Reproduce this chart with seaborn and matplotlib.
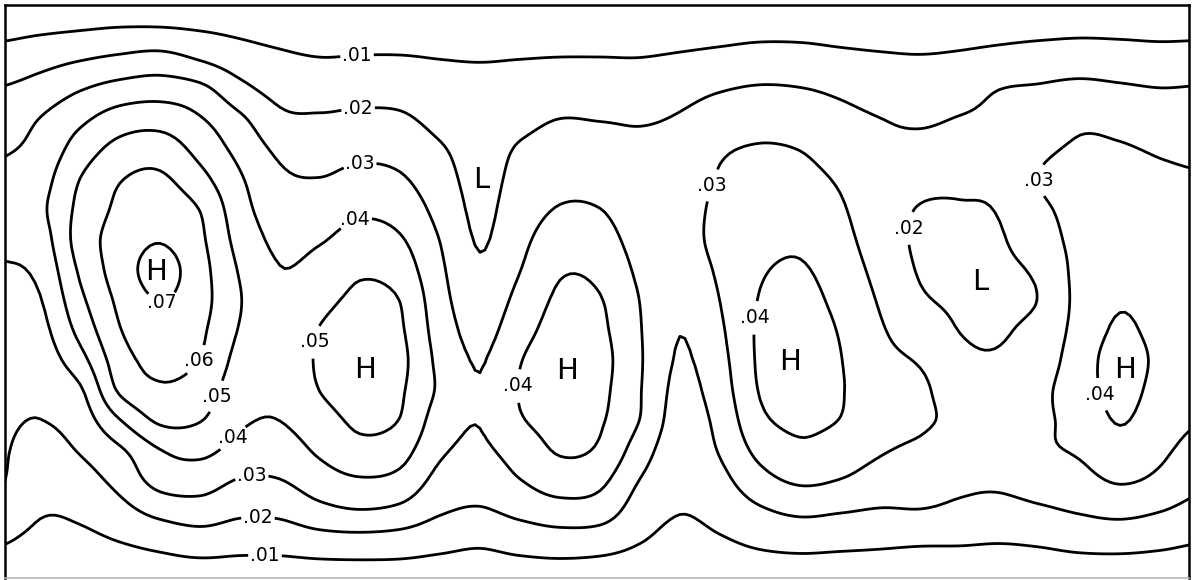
import numpy as np
import matplotlib
matplotlib.use("Agg")
import matplotlib.pyplot as plt
import seaborn as sns

# Analysed field on a regular grid (values in hundredths).
# Each list is one north-south profile, top (y=0) to bottom (y=600).
grid_x = list(range(0, 1201, 40))
grid_y = list(range(0, 601, 30))

profiles = [
    [0.1, 0.74, 1.41, 2.06, 2.48, 2.90, 3.19, 3.39, 3.13, 2.93, 2.76, 2.6, 2.45, 2.3, 2.15, 2.09, 2.06, 1.84, 1.11, 0.64, 0.2],
    [0, 0.86, 1.68, 2.41, 3.04, 3.32, 3.61, 3.80, 3.52, 3.23, 2.95, 2.71, 2.47, 2.23, 1.99, 1.69, 1.40, 1.10, 0.75, 0.38, 0],
    [0, 0.98, 1.97, 2.97, 3.81, 4.46, 5.02, 5.26, 5.41, 5.14, 4.77, 4.30, 3.65, 2.87, 2.47, 2.07, 1.64, 1.20, 0.79, 0.39, 0],
    [0, 1.11, 2.22, 3.41, 4.5, 5.35, 5.96, 6.2, 6.41, 6.47, 6.22, 5.96, 5.57, 5.17, 3.98, 2.87, 2.31, 1.71, 1.04, 0.52, 0],
    [0, 1.12, 2.38, 3.57, 4.63, 5.54, 6.17, 6.56, 6.95, 7.37, 7.03, 6.66, 6.29, 5.86, 5.18, 3.98, 3.38, 2.33, 1.31, 0.61, 0],
    [0, 0.97, 1.98, 3.29, 4.1, 4.7, 5.33, 5.98, 6.18, 6.36, 6.36, 6.18, 5.98, 5.52, 5.05, 4.25, 3.45, 2.57, 1.54, 0.67, 0],
    [0, 0.79, 1.5, 2.31, 3.2, 3.71, 4.12, 4.38, 4.65, 4.91, 5.05, 4.93, 4.67, 4.41, 4.15, 3.68, 2.95, 2.22, 1.4, 0.65, 0],
    [0, 0.63, 1.2, 1.7, 2.23, 2.81, 3.19, 3.49, 3.78, 4.03, 4.14, 4.26, 4.24, 4.12, 4.01, 3.54, 2.98, 2.25, 1.41, 0.65, 0],
    [0, 0.53, 1.05, 1.6, 2.12, 2.58, 3.04, 3.49, 3.93, 4.33, 4.73, 5.04, 5.15, 5.02, 4.62, 4.17, 3.55, 2.74, 1.62, 0.68, 0],
    [0, 0.55, 1.09, 1.66, 2.22, 2.76, 3.31, 3.85, 4.37, 4.88, 5.17, 5.39, 5.61, 5.43, 5.17, 4.73, 3.91, 2.98, 1.68, 0.7, 0],
    [0, 0.55, 1.09, 1.64, 2.16, 2.65, 3.13, 3.62, 4.1, 4.55, 4.98, 5.12, 5.25, 5.12, 4.97, 4.4, 3.71, 2.78, 1.59, 0.7, 0],
    [0, 0.51, 1.01, 1.38, 1.75, 2.1, 2.39, 2.69, 2.98, 3.18, 3.36, 3.55, 3.74, 3.84, 3.5, 3.16, 2.7, 2.13, 1.34, 0.63, 0],
    [0, 0.48, 0.97, 1.29, 1.6, 1.66, 1.71, 1.8, 1.93, 2.12, 2.39, 2.67, 2.94, 3.04, 3.03, 2.85, 2.4, 1.93, 1.18, 0.57, 0],
    [0, 0.51, 1.01, 1.39, 1.77, 2.09, 2.31, 2.53, 2.76, 2.98, 3.29, 3.62, 3.95, 4.05, 3.92, 3.45, 2.98, 2.28, 1.42, 0.64, 0],
    [0, 0.53, 1.05, 1.54, 2.02, 2.37, 2.71, 3.07, 3.49, 3.9, 4.16, 4.37, 4.58, 4.51, 4.3, 4.09, 3.51, 2.6, 1.57, 0.68, 0],
    [0, 0.53, 1.05, 1.52, 1.98, 2.34, 2.68, 3.02, 3.39, 3.76, 4.05, 4.19, 4.33, 4.24, 4.1, 3.86, 3.24, 2.51, 1.48, 0.63, 0],
    [0, 0.53, 1.04, 1.49, 1.94, 2.15, 2.32, 2.49, 2.66, 2.83, 2.98, 3.05, 3.09, 3.05, 2.98, 2.5, 1.98, 1.53, 1.06, 0.54, 0],
    [0, 0.58, 1.15, 1.72, 2.08, 2.25, 2.42, 2.59, 2.64, 2.5, 2.24, 2.03, 1.91, 1.74, 1.56, 1.39, 1.22, 1.04, 0.72, 0.36, 0],
    [0, 0.64, 1.29, 1.96, 2.42, 2.88, 3.09, 3.22, 3.26, 3.14, 3.01, 2.86, 2.7, 2.53, 2.3, 2.08, 1.73, 1.33, 0.92, 0.46, 0],
    [0, 0.71, 1.43, 2.11, 2.65, 3.08, 3.28, 3.49, 3.69, 3.9, 4.05, 4.15, 4.15, 4.06, 3.8, 3.29, 2.66, 1.89, 1.2, 0.59, 0],
    [0, 0.71, 1.4, 2.05, 2.52, 2.99, 3.28, 3.56, 3.84, 4.09, 4.31, 4.52, 4.66, 4.4, 4.18, 3.82, 3.16, 2.21, 1.33, 0.63, 0],
    [0, 0.64, 1.26, 1.86, 2.25, 2.57, 2.89, 3.13, 3.33, 3.53, 3.73, 3.93, 4.04, 4.06, 3.98, 3.5, 2.98, 2.09, 1.27, 0.6, 0],
    [0, 0.59, 1.15, 1.63, 2.02, 2.15, 2.2, 2.3, 2.48, 2.7, 2.91, 3.1, 3.27, 3.45, 3.26, 3.08, 2.61, 1.95, 1.2, 0.58, 0],
    [0, 0.57, 1.09, 1.5, 1.91, 2.15, 2.12, 1.97, 1.87, 1.93, 2.13, 2.52, 2.91, 3.2, 3.15, 2.83, 2.42, 1.98, 1.14, 0.55, 0],
    [0, 0.61, 1.17, 1.65, 2.05, 2.25, 2.12, 1.94, 1.81, 1.72, 1.86, 1.98, 2.2, 2.4, 2.75, 2.4, 2.17, 1.83, 1.12, 0.55, 0],
    [0, 0.67, 1.34, 2.01, 2.2, 2.4, 2.23, 2.06, 1.92, 1.81, 1.8, 1.92, 2.09, 2.34, 2.6, 2.37, 2.14, 1.75, 1.07, 0.53, 0],
    [0, 0.73, 1.49, 2.11, 2.42, 2.85, 3.02, 2.85, 2.61, 2.2, 2.05, 2.33, 2.53, 2.78, 2.85, 2.85, 2.43, 1.88, 1.15, 0.56, 0],
    [0, 0.79, 1.56, 2.25, 2.83, 3.1, 3.14, 3.19, 3.25, 3.3, 3.3, 3.35, 3.5, 3.53, 3.32, 3.11, 2.71, 2.1, 1.31, 0.61, 0],
    [0, 0.77, 1.49, 2.15, 2.73, 3.08, 3.24, 3.4, 3.56, 3.74, 3.91, 4.14, 4.41, 4.33, 4.07, 3.62, 3.1, 2.29, 1.35, 0.63, 0],
    [0, 0.73, 1.41, 2.04, 2.49, 2.93, 3.11, 3.23, 3.36, 3.47, 3.57, 3.67, 3.77, 3.64, 3.41, 3.17, 2.8, 2.05, 1.24, 0.59, 0],
    [0, 0.75, 1.45, 2.08, 2.47, 2.87, 3.04, 3.11, 3.17, 3.24, 3.3, 3.23, 3.16, 3.09, 3.02, 2.69, 2.23, 1.69, 1.06, 0.53, 0],
]

# Isoline values and where each one carries its label
levels = [0.01, 0.02, 0.03, 0.04, 0.05, 0.06, 0.07]
label_spots = [
    (357, 55), (358, 108), (360, 165), (355, 219),
    (162, 302), (200, 362), (226, 400), (237, 442), (252, 479), (258, 519), (265, 553),
    (315, 342), (518, 386), (711, 185), (757, 318), (908, 228), (1043, 180), (1099, 395),
]

# Centres of highs and lows
centre_marks = ["H", "H", "H", "H", "H", "L", "L"]
centre_x = [156, 365, 567, 790, 1125, 481, 980]
centre_y = [272, 370, 371, 362, 370, 180, 282]


def smooth_grid(n, factor):
    """Catmull-Rom weights that refine n grid nodes by the given factor."""
    t = np.linspace(0, n - 1, (n - 1) * factor + 1)
    i = np.clip(np.floor(t).astype(int), 0, n - 2)
    f = t - i
    coeffs = [(-f**3 + 2 * f**2 - f) / 2,
              (3 * f**3 - 5 * f**2 + 2) / 2,
              (-3 * f**3 + 4 * f**2 + f) / 2,
              (f**3 - f**2) / 2]
    w = np.zeros((t.size, n))
    rows = np.arange(t.size)
    for k, c in zip(range(-1, 3), coeffs):
        np.add.at(w, (rows, np.clip(i + k, 0, n - 1)), c)
    return t, w


sns.set_theme(style="white")
plt.rcParams["font.family"] = ["DejaVu Sans"]

field = np.array(profiles).T * 0.01          # rows = y, cols = x
gx = np.array(grid_x, dtype=float)
gy = np.array(grid_y, dtype=float)
tx, wx = smooth_grid(gx.size, 8)
ty, wy = smooth_grid(gy.size, 8)
fine = wy @ field @ wx.T
fx = gx[0] + tx * (gx[1] - gx[0])
fy = gy[0] + ty * (gy[1] - gy[0])
FX, FY = np.meshgrid(fx, fy)

W, H = 1192, 580
fig = plt.figure(figsize=(W / 100, H / 100), dpi=100)
left, right, top, bottom = 5, 1189, 5, 578
ax = fig.add_axes([left / W, 1 - bottom / H, (right - left) / W, (bottom - top) / H])
ax.set_xlim(left, right)
ax.set_ylim(bottom, top)

cs = ax.contour(FX, FY, fine, levels=levels, colors="black", linewidths=2.0)
texts = ax.clabel(cs, levels, inline=True, inline_spacing=2, fontsize=13.5,
                  fmt=lambda v: f"{v:.2f}".lstrip("0"), manual=label_spots)
for t in texts:
    t.set_rotation(0)
    t.set_color("black")

for mark, x, y in zip(centre_marks, centre_x, centre_y):
    ax.text(x, y, mark, fontsize=21, ha="center", va="center", color="black")

ax.set_xticks([])
ax.set_yticks([])
for side in ("left", "top", "right"):
    ax.spines[side].set_color("black")
    ax.spines[side].set_linewidth(1.8)
ax.spines["bottom"].set_color("#b5b5b5")
ax.spines["bottom"].set_linewidth(1.2)
ax.set_facecolor("white")
fig.patch.set_facecolor("white")

fig.savefig("out.png", dpi=100, facecolor="white")
